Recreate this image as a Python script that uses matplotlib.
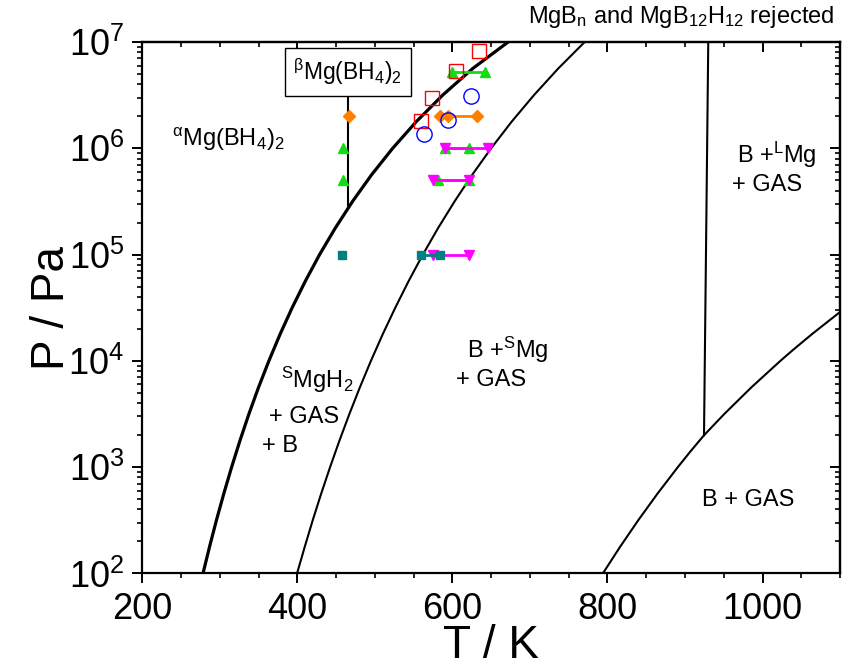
import numpy as np
import matplotlib
matplotlib.use("Agg")
import matplotlib.pyplot as plt
from matplotlib.ticker import MultipleLocator, LogLocator, NullFormatter

plt.rcParams['font.family'] = ['Liberation Sans', 'DejaVu Sans']
plt.rcParams['mathtext.fontset'] = 'custom'
plt.rcParams['mathtext.rm'] = 'Liberation Sans'
plt.rcParams['mathtext.it'] = 'Liberation Sans'
plt.rcParams['mathtext.default'] = 'regular'

# phase boundaries (T in K, log10 of P in Pa)
b1_logp = [2.0, 2.25, 2.5, 2.75, 3.0, 3.25, 3.5, 3.75, 4.0, 4.25, 4.5,
           4.75, 5.0, 5.25, 5.5, 5.75, 6.0, 6.25, 6.5, 6.75, 7.0]
b1_T = [278.3, 286.7, 295.6, 305.1, 315.2, 326.0, 337.5, 349.9, 363.3, 377.7, 393.3,
        410.3, 428.7, 449.0, 471.2, 495.7, 523.0, 553.4, 587.5, 626.2, 672.0]
b2_logp = b1_logp
b2_T = [399.6, 409.5, 419.8, 430.7, 442.2, 454.3, 467.1, 480.6, 494.9, 510.1, 526.3,
        543.5, 561.9, 581.6, 602.8, 625.5, 650.0, 676.4, 705.2, 736.5, 770.7]
b3_logp = [2.0, 2.25, 2.5, 2.75, 3.0, 3.15, 3.3, 3.5, 3.75, 4.0, 4.1, 4.25, 4.46]
b3_T = [794.0, 816.2, 839.6, 864.4, 890.7, 907.2, 924.5, 950.6, 985.5, 1023.0, 1038.8, 1063.5, 1100.0]
melt_T = [924.5, 930.0]
melt_logp = [3.3, 7.0]
beta_T = [465.0, 465.0]
beta_logp = [5.43, 6.5]

# experimental points
red_T = [559, 574, 604.3, 634.4]
red_P = [1.8e6, 2.95e6, 5.3e6, 8.2e6]
blue_T = [563.8, 594.7, 624]
blue_P = [1.36e6, 1.85e6, 3.1e6]
green_single_T = [458.5, 458.5]
green_single_P = [1e6, 5e5]
green_rows_T = [[600, 641.5], [590, 621], [581, 621]]
green_rows_P = [5.2e6, 1e6, 5e5]
magenta_rows_T = [[591, 645.5], [575.4, 621.4], [575.4, 621.4]]
magenta_rows_P = [1e6, 5e5, 1e5]
orange_single_T = [466]
orange_single_P = [2e6]
orange_row_T = [584, 594.7, 631.4]
orange_row_P = 2e6
teal_single_T = [457]
teal_single_P = [1e5]
teal_row_T = [559, 584]
teal_row_P = 1e5

green = '#11dd11'
magenta = '#ff00ff'
orange = '#ff8000'
teal = '#008080'

fig = plt.figure(figsize=(8.52, 6.72), dpi=100)
ax = fig.add_axes([0.167, 0.1466, 0.819, 0.791])

ax.plot(b1_T, 10 ** np.array(b1_logp), color='black', lw=2.3)
ax.plot(b2_T, 10 ** np.array(b2_logp), color='black', lw=1.5)
ax.plot(b3_T, 10 ** np.array(b3_logp), color='black', lw=1.5)
ax.plot(melt_T, 10 ** np.array(melt_logp), color='black', lw=1.5)
ax.plot(beta_T, 10 ** np.array(beta_logp), color='black', lw=1.5)

for t, p in zip(green_rows_T, green_rows_P):
    ax.plot(t, [p] * len(t), '-^', color=green, ms=7, lw=2)
ax.plot(green_single_T, green_single_P, '^', color=green, ms=7, ls='none')
for t, p in zip(magenta_rows_T, magenta_rows_P):
    ax.plot(t, [p] * len(t), '-v', color=magenta, ms=7.5, lw=2)
ax.plot(orange_row_T, [orange_row_P] * len(orange_row_T), '-D', color=orange, ms=6.5, lw=2)
ax.plot(orange_single_T, orange_single_P, 'D', color=orange, ms=6.5, ls='none')
ax.plot(teal_row_T, [teal_row_P] * len(teal_row_T), '-s', color=teal, ms=6, lw=2)
ax.plot(teal_single_T, teal_single_P, 's', color=teal, ms=6, ls='none')
ax.plot(red_T, red_P, 's', mfc='none', mec='red', mew=1, ms=10, ls='none')
ax.plot(blue_T, blue_P, 'o', mfc='none', mec='blue', mew=1, ms=11, ls='none')

ax.set_xlim(200, 1100)
ax.set_yscale('log')
ax.set_ylim(1e2, 1e7)
ax.xaxis.set_major_locator(MultipleLocator(200))
ax.xaxis.set_minor_locator(MultipleLocator(50))
ax.yaxis.set_major_locator(LogLocator(base=10, numticks=10))
ax.yaxis.set_minor_locator(LogLocator(base=10, subs=np.arange(2, 10), numticks=20))
ax.yaxis.set_minor_formatter(NullFormatter())
ax.tick_params(which='major', direction='out', length=7, width=1.4, labelsize=26, pad=6)
ax.tick_params(which='minor', direction='out', length=3.5, width=1.2)
for s in ax.spines.values():
    s.set_linewidth(1.6)

top = ax.secondary_xaxis('top')
top.xaxis.set_major_locator(MultipleLocator(200))
top.xaxis.set_minor_locator(MultipleLocator(50))
top.tick_params(which='major', direction='in', length=7, width=1.4, labeltop=False)
top.tick_params(which='minor', direction='in', length=3.5, width=1.2)
right = ax.secondary_yaxis('right')
right.yaxis.set_major_locator(LogLocator(base=10, numticks=10))
right.yaxis.set_minor_locator(LogLocator(base=10, subs=np.arange(2, 10), numticks=20))
right.tick_params(which='major', direction='in', length=7, width=1.4, labelright=False)
right.tick_params(which='minor', direction='in', length=3.5, width=1.2, labelright=False)
right.yaxis.set_minor_formatter(NullFormatter())
for sa in (top, right):
    for s in sa.spines.values():
        s.set_linewidth(1.6)

ax.set_xlabel('T / K', fontsize=33, labelpad=-2)
ax.set_ylabel('P / Pa', fontsize=33, labelpad=-4)

fs = 17
ax.text(310.5, 10 ** 6.08, r'$^{\alpha}$Mg(BH$_4$)$_2$', fontsize=fs, ha='center', va='center')
ax.text(465, 10 ** 6.72, r'$^{\beta}$Mg(BH$_4$)$_2$', fontsize=16.5, ha='center', va='center',
        bbox=dict(boxstyle='square,pad=0.38', fc='white', ec='black', lw=1))
ax.text(425, 10 ** 3.82, r'$^{S}$MgH$_2$', fontsize=fs, ha='center', va='center')
ax.text(408.5, 10 ** 3.47, '+ GAS', fontsize=fs, ha='center', va='center')
ax.text(377.5, 10 ** 3.2, '+ B', fontsize=fs, ha='center', va='center')
ax.text(671.7, 10 ** 4.1, r'B +$^{S}$Mg', fontsize=fs, ha='center', va='center')
ax.text(649.8, 10 ** 3.82, '+ GAS', fontsize=fs, ha='center', va='center')
ax.text(1018.8, 10 ** 5.94, r'B +$^{L}$Mg', fontsize=fs, ha='center', va='center')
ax.text(1005.8, 10 ** 5.655, '+ GAS', fontsize=fs, ha='center', va='center')
ax.text(981.4, 10 ** 2.69, 'B + GAS', fontsize=fs, ha='center', va='center')

fig.text(835 / 852, 1 - 17 / 672, r'MgB$_n$ and MgB$_{12}$H$_{12}$ rejected',
         fontsize=fs, ha='right', va='center')

fig.savefig('out.png', dpi=100)
